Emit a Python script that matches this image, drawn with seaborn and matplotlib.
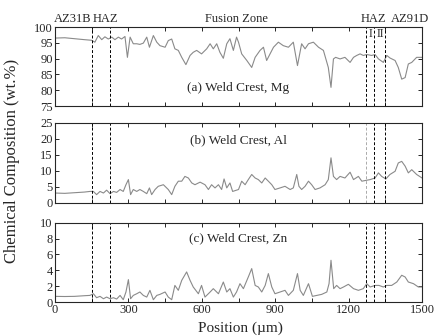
import pandas as pd
import matplotlib.pyplot as plt
import seaborn as sns
from matplotlib.ticker import MultipleLocator

# data (position in um, wt.%)
mg_pos = [0, 40, 80, 120, 150, 163, 177, 191, 204, 218, 232, 245, 259, 272, 286, 296, 307, 320,
          334, 347, 361, 375, 386, 402, 416, 429, 450, 463, 477, 490, 504, 518, 535, 552, 565,
          579, 599, 620, 634, 647, 661, 674, 688, 702, 715, 729, 742, 750, 763, 784, 804, 818,
          838, 852, 865, 879, 893, 913, 933, 954, 974, 991, 1008, 1022, 1036, 1056, 1077, 1097,
          1117, 1128, 1138, 1147, 1165, 1185, 1206, 1220, 1233, 1247, 1260, 1274, 1294, 1308,
          1322, 1342, 1356, 1369, 1390, 1403, 1417, 1431, 1444, 1458, 1478, 1500]
mg_val = [96.5, 96.6, 96.3, 96.0, 95.8, 95.2, 97.3, 96.0, 96.9, 96.2, 96.8, 96.0, 96.8, 96.2,
          97.0, 90.4, 96.8, 94.7, 94.7, 94.5, 94.9, 96.8, 93.6, 97.3, 95.2, 94.1, 93.6, 95.7,
          96.2, 93.1, 92.6, 90.4, 88.1, 91.0, 92.0, 92.6, 91.5, 93.1, 94.7, 93.1, 94.7, 92.0,
          90.1, 94.7, 96.3, 92.6, 96.8, 95.2, 91.5, 89.4, 87.2, 90.4, 92.6, 93.6, 89.4, 91.5,
          93.6, 95.2, 94.1, 93.6, 95.2, 87.8, 94.7, 93.1, 94.7, 95.2, 93.6, 92.6, 87.2, 80.9,
          89.9, 90.4, 89.9, 90.4, 88.8, 90.4, 91.0, 91.5, 91.0, 91.3, 91.0, 91.3, 89.9, 88.8,
          91.0, 90.2, 89.4, 87.2, 83.5, 84.0, 88.3, 88.8, 90.4, 90.4]

al_pos = [0, 40, 80, 120, 143, 157, 170, 184, 198, 211, 225, 239, 252, 266, 279, 290, 300, 309,
          320, 334, 347, 361, 375, 386, 395, 409, 422, 443, 463, 477, 490, 504, 518, 531, 545,
          559, 572, 593, 613, 627, 640, 654, 668, 681, 691, 702, 715, 726, 750, 763, 777, 790,
          804, 818, 831, 845, 859, 872, 886, 899, 920, 940, 961, 974, 988, 997, 1008, 1022,
          1036, 1049, 1063, 1083, 1104, 1117, 1128, 1138, 1151, 1165, 1185, 1206, 1220, 1240,
          1254, 1274, 1288, 1308, 1322, 1335, 1352, 1369, 1390, 1403, 1417, 1431, 1444, 1458,
          1478, 1500]
al_val = [3.1, 3.0, 3.2, 3.4, 3.6, 3.6, 2.6, 3.6, 3.1, 4.0, 2.9, 3.6, 3.3, 4.2, 3.6, 5.7, 7.3,
          2.6, 4.2, 3.6, 4.2, 3.6, 2.9, 4.7, 2.6, 4.2, 5.2, 5.7, 4.2, 2.6, 5.2, 6.8, 6.8, 8.3,
          7.8, 6.25, 5.7, 6.5, 5.7, 4.2, 5.7, 4.7, 5.7, 4.2, 7.5, 4.7, 6.25, 3.6, 4.2, 6.8, 5.7,
          7.3, 8.9, 7.8, 7.3, 6.25, 7.8, 6.8, 5.7, 4.2, 4.7, 5.2, 4.2, 4.7, 8.9, 5.2, 4.2, 5.2,
          6.8, 5.7, 4.2, 4.7, 5.7, 7.3, 14.1, 8.3, 7.3, 8.3, 7.8, 9.6, 7.3, 8.3, 6.8, 7.1, 7.3,
          7.8, 9.4, 8.3, 7.5, 8.9, 9.9, 12.5, 13.0, 11.5, 9.4, 10.4, 8.9, 7.8]

zn_pos = [0, 40, 80, 120, 143, 157, 170, 184, 198, 211, 225, 239, 252, 266, 279, 290, 300, 309,
          320, 334, 347, 361, 375, 388, 402, 416, 429, 450, 463, 477, 490, 504, 518, 538, 552,
          565, 586, 599, 613, 634, 647, 668, 688, 702, 715, 729, 742, 756, 770, 790, 804, 818,
          831, 845, 859, 872, 886, 899, 920, 940, 954, 974, 991, 1002, 1015, 1036, 1052, 1070,
          1090, 1111, 1120, 1128, 1139, 1151, 1165, 1179, 1199, 1220, 1240, 1260, 1274, 1288,
          1308, 1324, 1342, 1356, 1376, 1397, 1417, 1431, 1444, 1465, 1485, 1500]
zn_val = [0.72, 0.7, 0.72, 0.8, 0.84, 1.05, 0.55, 0.72, 0.42, 0.63, 0.42, 0.55, 0.38, 0.84, 0.3,
          1.27, 2.83, 0.42, 0.84, 1.05, 1.27, 0.84, 0.63, 1.48, 0.3, 0.84, 0.97, 1.27, 0.63,
          0.3, 2.1, 1.48, 2.74, 3.8, 2.74, 1.9, 1.05, 2.1, 0.63, 1.27, 1.69, 1.05, 2.53, 1.27,
          1.69, 0.63, 1.27, 2.32, 1.69, 3.16, 4.22, 2.1, 1.9, 1.27, 2.1, 3.59, 1.9, 1.05, 1.27,
          1.48, 0.84, 1.48, 3.59, 1.48, 0.84, 2.32, 0.72, 0.84, 0.97, 1.27, 2.32, 5.27, 1.69,
          2.1, 1.69, 1.9, 2.24, 1.69, 1.48, 1.69, 2.32, 1.9, 2.1, 2.1, 1.9, 2.1, 2.1, 2.53,
          3.38, 3.16, 2.53, 2.32, 1.9, 1.9]

zone_lines = [150, 225, 1270, 1305, 1350]
zone_names = ['AZ31B', 'HAZ', 'Fusion Zone', 'HAZ', 'AZ91D']
zone_name_pos = [72, 206, 740, 1300, 1450]

panels = [
    (mg_pos, mg_val, (75, 100), 5, '(a) Weld Crest, Mg', 80.7),
    (al_pos, al_val, (0, 25), 5, '(b) Weld Crest, Al', 19.7),
    (zn_pos, zn_val, (0, 10), 2, '(c) Weld Crest, Zn', 8.06),
]

sns.set_style('ticks')
plt.rcParams['font.family'] = ['Liberation Serif', 'DejaVu Serif']

fig = plt.figure(figsize=(4.34, 3.36), dpi=100)
boxes = [(0.9196, 0.6845), (0.634, 0.396), (0.337, 0.101)]

for i, (pos, val, ylim, ystep, label, label_y) in enumerate(panels):
    top, bottom = boxes[i]
    ax = fig.add_axes([0.1267, bottom, 0.9724 - 0.1267, top - bottom])
    df = pd.DataFrame({'Position': pos, 'Composition': val})
    sns.lineplot(data=df, x='Position', y='Composition', ax=ax, color='#8a8a8a', lw=0.8)

    for j, xl in enumerate(zone_lines):
        c = '#aaaaaa' if (i == 1 and j == 2) else 'black'
        ax.axvline(xl, color=c, lw=0.7, ls=(0, (3, 2)))

    ax.set_xlim(0, 1500)
    ax.set_ylim(*ylim)
    ax.xaxis.set_major_locator(MultipleLocator(300))
    ax.xaxis.set_minor_locator(MultipleLocator(150))
    ax.yaxis.set_major_locator(MultipleLocator(ystep))
    ax.tick_params(which='both', direction='in', top=True, right=True,
                   length=3, width=0.7, labelsize=9, pad=1.5)
    for s in ax.spines.values():
        s.set_linewidth(0.8)
    ax.set_xlabel('')
    ax.set_ylabel('')
    if i < 2:
        ax.tick_params(labelbottom=False)

    ax.text(750, label_y, label, ha='center', va='center', fontsize=9.5)

    if i == 0:
        for name, xp in zip(zone_names, zone_name_pos):
            ax.text(xp, 100.6, name, ha='center', va='bottom', fontsize=9, clip_on=False)
        ax.text(1288, 97.9, 'I', ha='center', va='center', fontsize=8.5)
        ax.text(1328, 97.9, 'II', ha='center', va='center', fontsize=8.5)

fig.text(0.028, 0.52, 'Chemical Composition (wt.%)', rotation=90, ha='center', va='center',
         fontsize=12)
fig.text(0.555, 0.022, 'Position (\u00b5m)', ha='center', va='center', fontsize=11)

fig.savefig('out.png', dpi=100)
